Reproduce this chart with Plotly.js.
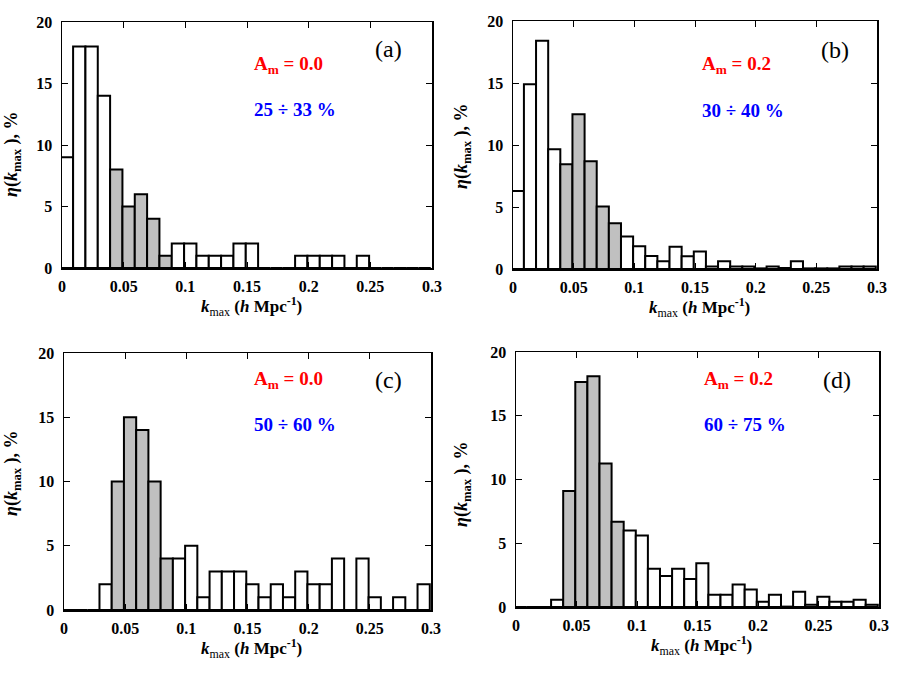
<!DOCTYPE html>
<html>
<head>
<meta charset="utf-8">
<script src="https://cdn.plot.ly/plotly-3.0.1.min.js"></script>
<style>
  html, body { margin: 0; padding: 0; background: #fff; }
  #chart { width: 901px; height: 676px; }
</style>
</head>
<body>
<div id="chart"></div>
<script>
// Центри бінів (ширина 0.01, межі зсунуті на -0.001).
const binCenters = [
    0.004, 0.014, 0.024, 0.034, 0.044, 0.054, 0.064, 0.074, 0.084, 0.094,
    0.104, 0.114, 0.124, 0.134, 0.144, 0.154, 0.164, 0.174, 0.184, 0.194,
    0.204, 0.214, 0.224, 0.234, 0.244, 0.254, 0.264, 0.274, 0.284, 0.294,
];

// Значення гістограм, %.
const etaA = [
    9, 18, 18, 14, 8, 5, 6, 4, 1, 2,
    2, 1, 1, 1, 2, 2, 0, 0, 0, 1,
    1, 1, 1, 0, 1, 0, 0, 0, 0, 0,
];
const etaB = [
    6.3, 14.9, 18.4, 9.65, 8.44, 12.47, 8.68, 5.05, 3.68, 2.63,
    1.83, 1.05, 0.62, 1.8, 1.02, 1.42, 0.2, 0.62, 0.2, 0.2,
    0.05, 0.2, 0.08, 0.62, 0.05, 0.05, 0.05, 0.2, 0.2, 0.2,
];
const etaC = [
    0, 0, 0, 2, 10, 15, 14, 10, 4, 4,
    5, 1, 3, 3, 3, 2, 1, 2, 1, 3,
    2, 2, 4, 0, 4, 1, 0, 1, 0, 2,
];
const etaD = [
    0, 0, 0, 0.57, 9.1, 17.65, 18.1, 11.26, 6.68, 6.0,
    5.6, 3.0, 2.43, 3.0, 2.2, 3.44, 0.96, 0.96, 1.77, 1.38,
    0.42, 0.96, 0.03, 1.2, 0.18, 0.8, 0.42, 0.42, 0.57, 0.18,
];

// Сірі біни (0.039 .. 0.089).
const grayBins = [4, 5, 6, 7, 8];

// Підписи панелей.
const panelLabels = ["(a)", "(b)", "(c)", "(d)"];
const amLabels = ["0.0", "0.2", "0.0", "0.2"];
const rangeLabels = ["25 ÷ 33 %", "30 ÷ 40 %", "50 ÷ 60 %", "60 ÷ 75 %"];

const xTickVals = [0, 0.05, 0.1, 0.15, 0.2, 0.25, 0.3];
const xTickText = ["0", "0.05", "0.1", "0.15", "0.2", "0.25", "0.3"];
const yTickVals = [0, 5, 10, 15, 20];

// ==== Розкладка (у пікселях, потім переводимо в долі) =====================
const W = 901, H = 676;
const boxes = [
    { x0: 62, x1: 432, y0: 22, y1: 268, ytx: 12, ytc: 155 },
    { x0: 513, x1: 877, y0: 21, y1: 269, ytx: 463, ytc: 147 },
    { x0: 64, x1: 431, y0: 353, y1: 610, ytx: 12, ytc: 474 },
    { x0: 516, x1: 879, y0: 352, y1: 607, ytx: 463, ytc: 485 },
];
// Позиції текстів усередині панелей (у координатах даних).
const textPos = [
    { am: 16.5, pr: 12.85, lab: 17.8 },
    { am: 16.45, pr: 12.8, lab: 17.7 },
    { am: 17.9, pr: 14.4, lab: 17.9 },
    { am: 17.8, pr: 14.3, lab: 17.8 },
];

const FONT = "Liberation Serif";
const series = [etaA, etaB, etaC, etaD];

const traces = [];
const layout = {
    width: W,
    height: H,
    margin: { l: 0, r: 0, t: 0, b: 0 },
    paper_bgcolor: "#fff",
    plot_bgcolor: "#fff",
    showlegend: false,
    bargap: 0,
    font: { family: FONT, color: "#000" },
    annotations: [],
};

series.forEach((values, i) => {
    const n = i === 0 ? "" : String(i + 1);
    const b = boxes[i];

    traces.push({
        type: "bar",
        x: binCenters,
        y: values,
        width: 0.01,
        xaxis: "x" + n,
        yaxis: "y" + n,
        marker: {
            color: values.map((_, k) => (grayBins.includes(k) ? "#c0c0c0" : "#ffffff")),
            line: { color: "#000", width: 2 },
        },
        hoverinfo: "x+y",
    });

    const axisCommon = {
        showline: true,
        linecolor: "#000",
        linewidth: 1.5,
        mirror: "ticks",
        ticks: "inside",
        ticklen: 6,
        tickwidth: 1,
        tickcolor: "#000",
        showgrid: false,
        zeroline: false,
        tickfont: { family: FONT, size: 16, color: "#000", weight: "bold" },
        fixedrange: true,
    };

    layout["xaxis" + n] = Object.assign({}, axisCommon, {
        domain: [b.x0 / W, b.x1 / W],
        anchor: "y" + n,
        range: [0, 0.3],
        tickvals: xTickVals,
        ticktext: xTickText,
        ticklabelstandoff: 3,
    });
    layout["yaxis" + n] = Object.assign({}, axisCommon, {
        domain: [1 - b.y1 / H, 1 - b.y0 / H],
        anchor: "x" + n,
        range: [0, 20],
        tickvals: yTickVals,
        ticklabelstandoff: 5,
    });

    const t = textPos[i];
    layout.annotations.push(
        {
            xref: "x" + n, yref: "y" + n,
            x: 0.265, y: t.lab, xanchor: "center", yanchor: "middle",
            text: panelLabels[i],
            showarrow: false,
            font: { family: FONT, size: 24, color: "#000" },
        },
        {
            xref: "x" + n, yref: "y" + n,
            x: 0.154, y: t.am, xanchor: "left", yanchor: "middle",
            text: "<b>A<sub>m</sub> = " + amLabels[i] + "</b>",
            showarrow: false,
            font: { family: FONT, size: 19, color: "#ff0000" },
        },
        {
            xref: "x" + n, yref: "y" + n,
            x: 0.154, y: t.pr, xanchor: "left", yanchor: "middle",
            text: "<b>" + rangeLabels[i] + "</b>",
            showarrow: false,
            font: { family: FONT, size: 19, color: "#0000ff" },
        },
        // Підпис осі Y.
        {
            xref: "paper", yref: "paper",
            x: b.ytx / W, y: 1 - b.ytc / H,
            xanchor: "center", yanchor: "middle",
            text: "<b><i>η</i>(<i>k</i><sub>max</sub> ), %</b>",
            textangle: -90,
            showarrow: false,
            font: { family: FONT, size: 18, color: "#000" },
        },
        // Підпис осі X.
        {
            xref: "paper", yref: "paper",
            x: ((b.x0 + b.x1) / 2 + 4) / W, y: 1 - (b.y1 + 38) / H,
            xanchor: "center", yanchor: "middle",
            text: "<b><i>k</i></b><sub>max</sub><b> (<i>h</i> Mpc<sup>-1</sup>)</b>",
            showarrow: false,
            font: { family: FONT, size: 17, color: "#000" },
        }
    );
});

Plotly.newPlot("chart", traces, layout, { displayModeBar: false, staticPlot: true });
</script>
</body>
</html>
